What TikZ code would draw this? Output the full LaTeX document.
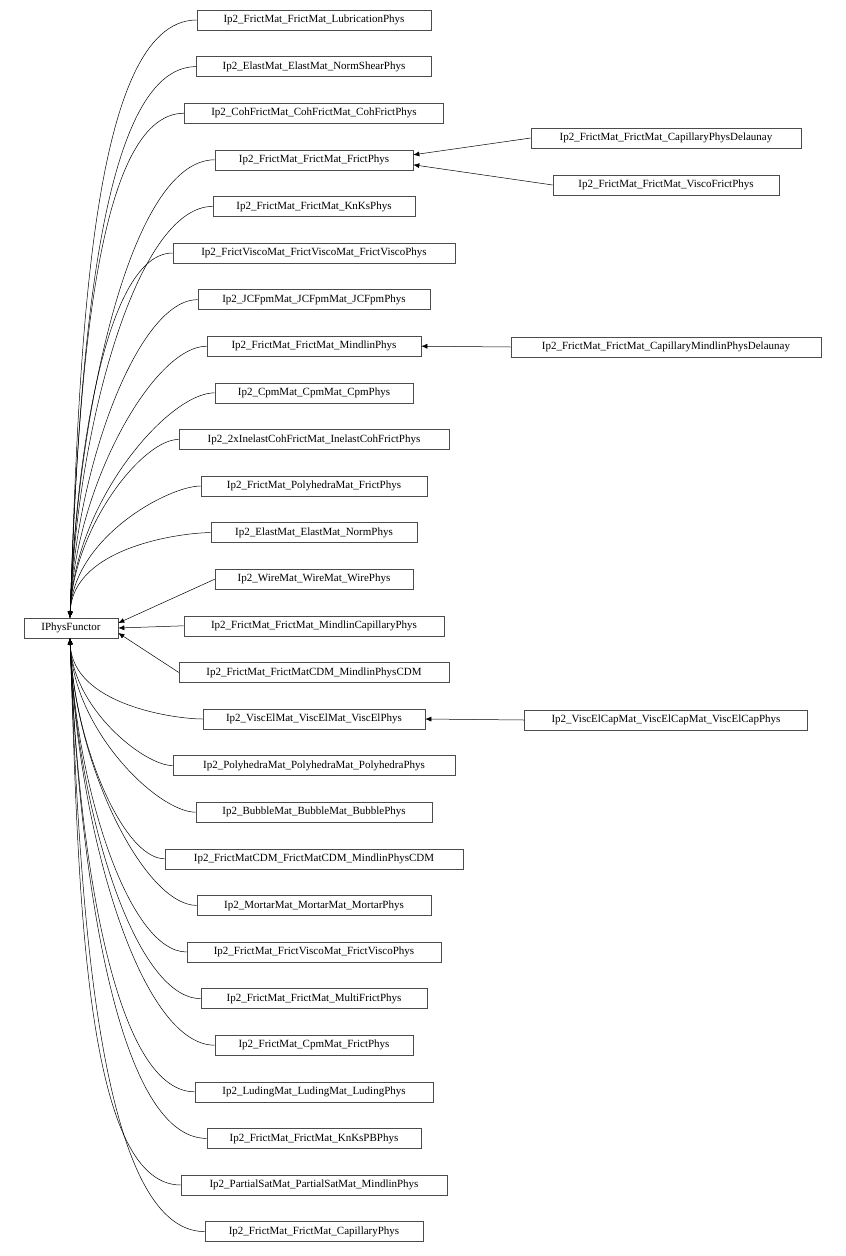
\documentclass[tikz,border=0pt]{standalone}
\usepackage{fontspec}
\setmainfont{Liberation Serif}
\usetikzlibrary{arrows.meta}
\begin{document}
\begin{tikzpicture}[x=1pt, y=1pt,
    cls/.style={draw=black!70, line width=0.6pt, minimum height=20pt, inner sep=0pt, font=\fontsize{11}{12}\selectfont},
    inh/.style={-{Latex[length=6pt,width=5pt]}, line width=0.5pt}]
  \useasboundingbox (0,0) rectangle (846,-1256);
  \node[cls, minimum width=94pt] (ip) at (71,-628) {IPhysFunctor};
  % middle column: label / width
  \foreach \lbl/\w [count=\i] in {
      Ip2\_FrictMat\_FrictMat\_LubricationPhys/234,
      Ip2\_ElastMat\_ElastMat\_NormShearPhys/235,
      Ip2\_CohFrictMat\_CohFrictMat\_CohFrictPhys/259,
      Ip2\_FrictMat\_FrictMat\_FrictPhys/198,
      Ip2\_FrictMat\_FrictMat\_KnKsPhys/202,
      Ip2\_FrictViscoMat\_FrictViscoMat\_FrictViscoPhys/282,
      Ip2\_JCFpmMat\_JCFpmMat\_JCFpmPhys/232,
      Ip2\_FrictMat\_FrictMat\_MindlinPhys/214,
      Ip2\_CpmMat\_CpmMat\_CpmPhys/198,
      Ip2\_2xInelastCohFrictMat\_InelastCohFrictPhys/270,
      Ip2\_FrictMat\_PolyhedraMat\_FrictPhys/226,
      Ip2\_ElastMat\_ElastMat\_NormPhys/206,
      Ip2\_WireMat\_WireMat\_WirePhys/198,
      Ip2\_FrictMat\_FrictMat\_MindlinCapillaryPhys/260,
      Ip2\_FrictMat\_FrictMatCDM\_MindlinPhysCDM/270,
      Ip2\_ViscElMat\_ViscElMat\_ViscElPhys/222,
      Ip2\_PolyhedraMat\_PolyhedraMat\_PolyhedraPhys/282,
      Ip2\_BubbleMat\_BubbleMat\_BubblePhys/236,
      Ip2\_FrictMatCDM\_FrictMatCDM\_MindlinPhysCDM/298,
      Ip2\_MortarMat\_MortarMat\_MortarPhys/234,
      Ip2\_FrictMat\_FrictViscoMat\_FrictViscoPhys/254,
      Ip2\_FrictMat\_FrictMat\_MultiFrictPhys/226,
      Ip2\_FrictMat\_CpmMat\_FrictPhys/198,
      Ip2\_LudingMat\_LudingMat\_LudingPhys/238,
      Ip2\_FrictMat\_FrictMat\_KnKsPBPhys/214,
      Ip2\_PartialSatMat\_PartialSatMat\_MindlinPhys/266,
      Ip2\_FrictMat\_FrictMat\_CapillaryPhys/218} {
    \pgfmathsetmacro{\yy}{-20-(\i-1)*46.6}
    \node[cls, minimum width=\w pt] (m\i) at (314,\yy) {\lbl};
    \ifnum\i<13
      \draw[inh] (m\i.west) to[out=180, in=88, out looseness=0.45, in looseness=1.1] ([xshift=-1pt]ip.north);
    \else\ifnum\i>15
      \draw[inh] (m\i.west) to[out=180, in=-88, out looseness=0.45, in looseness=1.1] ([xshift=-1pt]ip.south);
    \else
      \draw[inh] (m\i.west) -- ([yshift=(14-\i)*5pt]ip.east);
    \fi\fi
  }
  % right column
  \node[cls, minimum width=270pt] (cpd) at (666,-138) {Ip2\_FrictMat\_FrictMat\_CapillaryPhysDelaunay};
  \node[cls, minimum width=226pt] (vfp) at (666,-185) {Ip2\_FrictMat\_FrictMat\_ViscoFrictPhys};
  \node[cls, minimum width=310pt] (cmd) at (666,-347) {Ip2\_FrictMat\_FrictMat\_CapillaryMindlinPhysDelaunay};
  \node[cls, minimum width=283pt] (vec) at (666,-720) {Ip2\_ViscElCapMat\_ViscElCapMat\_ViscElCapPhys};
  \draw[inh] (cpd.west) -- ([yshift=5pt]m4.east);
  \draw[inh] (vfp.west) -- ([yshift=-5pt]m4.east);
  \draw[inh] (cmd.west) -- (m8.east);
  \draw[inh] (vec.west) -- (m16.east);
\end{tikzpicture}
\end{document}
